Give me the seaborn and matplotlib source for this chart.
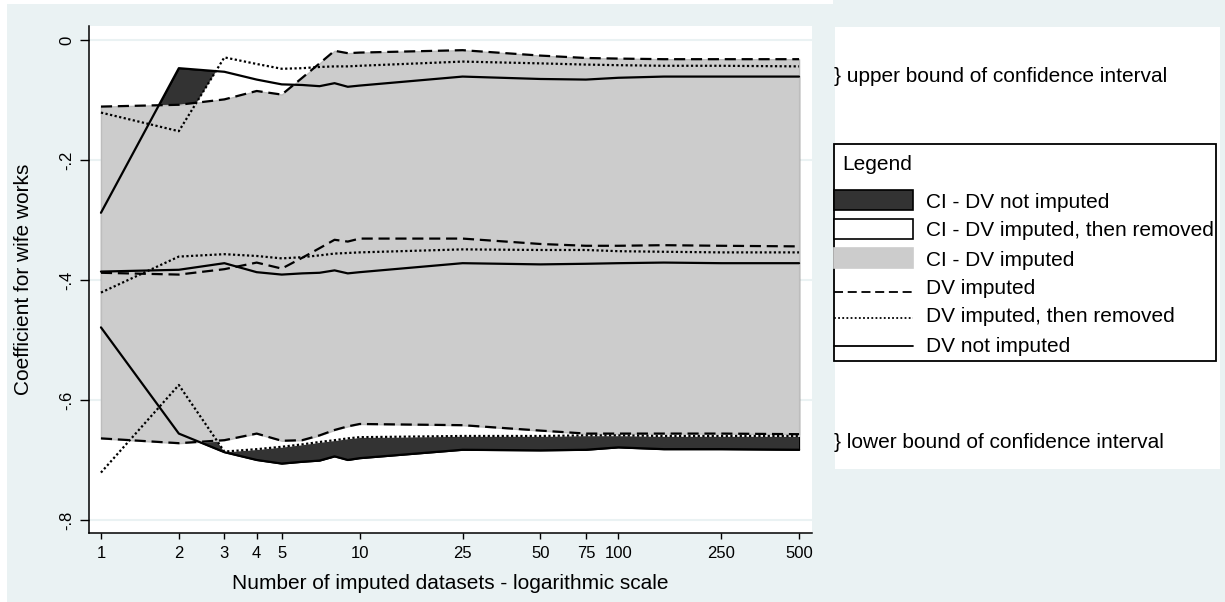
import numpy as np
import pandas as pd
import matplotlib.pyplot as plt
import seaborn as sns
from matplotlib.patches import Rectangle
from matplotlib.ticker import NullLocator

# number of imputed datasets
m_sets = [1, 2, 3, 4, 5, 6, 7, 8, 9, 10, 25, 50, 75, 100, 150, 250, 500]

# DV imputed (dashed)
imp_upper = [-0.111, -0.108, -0.099, -0.085, -0.091, -0.063, -0.039, -0.018, -0.022, -0.021,
             -0.017, -0.026, -0.030, -0.031, -0.032, -0.032, -0.032]
imp_coef = [-0.388, -0.391, -0.382, -0.371, -0.381, -0.363, -0.347, -0.333, -0.336, -0.331,
            -0.331, -0.340, -0.343, -0.343, -0.342, -0.343, -0.344]
imp_lower = [-0.664, -0.672, -0.667, -0.656, -0.668, -0.667, -0.659, -0.650, -0.644, -0.640,
             -0.642, -0.651, -0.656, -0.656, -0.656, -0.656, -0.657]

# DV imputed, then removed (dotted)
rem_upper = [-0.121, -0.152, -0.029, -0.040, -0.048, -0.047, -0.045, -0.044, -0.044, -0.043,
             -0.036, -0.039, -0.041, -0.042, -0.043, -0.043, -0.044]
rem_coef = [-0.421, -0.361, -0.357, -0.360, -0.364, -0.362, -0.359, -0.356, -0.355, -0.354,
            -0.349, -0.350, -0.350, -0.352, -0.353, -0.354, -0.354]
rem_lower = [-0.721, -0.575, -0.686, -0.682, -0.678, -0.674, -0.670, -0.667, -0.664, -0.662,
             -0.660, -0.660, -0.659, -0.659, -0.660, -0.660, -0.660]

# DV not imputed (solid)
not_upper = [-0.288, -0.047, -0.053, -0.066, -0.074, -0.075, -0.077, -0.072, -0.078, -0.076,
             -0.061, -0.065, -0.066, -0.063, -0.061, -0.061, -0.061]
not_coef = [-0.386, -0.383, -0.372, -0.387, -0.391, -0.389, -0.388, -0.384, -0.389, -0.387,
            -0.372, -0.374, -0.373, -0.372, -0.371, -0.372, -0.372]
not_lower = [-0.479, -0.656, -0.687, -0.700, -0.706, -0.703, -0.701, -0.694, -0.700, -0.697,
             -0.683, -0.684, -0.683, -0.679, -0.682, -0.682, -0.683]

x_ticks = [1, 2, 3, 4, 5, 10, 25, 50, 75, 100, 250, 500]
y_ticks = [0, -0.2, -0.4, -0.6, -0.8]
y_tick_labels = ["0", "-.2", "-.4", "-.6", "-.8"]

BG = "#EAF2F3"
DARK = "#333333"
GREY = "#CCCCCC"

sns.set_style("white")
plt.rcParams["font.family"] = ["Liberation Sans", "DejaVu Sans"]
plt.rcParams["text.color"] = "black"
plt.rcParams["axes.labelcolor"] = "black"
plt.rcParams["xtick.color"] = "black"
plt.rcParams["ytick.color"] = "black"

W, H = 1225, 602
fig = plt.figure(figsize=(W / 100, H / 100), dpi=100, facecolor=BG)


def px_axes(x0, y0, x1, y1):
    return fig.add_axes([x0 / W, 1 - y1 / H, (x1 - x0) / W, (y1 - y0) / H])


# thin white margin of the original export
fig.patches.append(Rectangle((0, 0), 7 / W, 1, transform=fig.transFigure,
                             facecolor="white", edgecolor="none", zorder=-5))
fig.patches.append(Rectangle((0, 1 - 4 / H), 833 / W, 4 / H, transform=fig.transFigure,
                             facecolor="white", edgecolor="none", zorder=-5))

ax = px_axes(89, 26, 812, 533)
ax.set_facecolor("white")

# confidence bands: not imputed at bottom, then removed, then imputed on top
ax.fill_between(m_sets, not_lower, not_upper, facecolor=DARK, edgecolor="black",
                linewidth=0.8, zorder=1)
ax.fill_between(m_sets, rem_lower, rem_upper, facecolor="white", edgecolor="white",
                linewidth=0.5, zorder=2)
ax.fill_between(m_sets, imp_lower, imp_upper, facecolor=GREY, edgecolor="#BDBDBD",
                linewidth=1.0, zorder=3)

series_names = ["DV imputed", "DV imputed, then removed", "DV not imputed"]
series_data = [
    (imp_upper, imp_coef, imp_lower),
    (rem_upper, rem_coef, rem_lower),
    (not_upper, not_coef, not_lower),
]
rows = []
for name, (up, mid, lo) in zip(series_names, series_data):
    for bound, vals in zip(["upper", "coef", "lower"], [up, mid, lo]):
        for m, v in zip(m_sets, vals):
            rows.append({"m": m, "coef": v, "series": name, "bound": bound})
df = pd.DataFrame(rows)

line_dashes = {"DV imputed": (5, 2.6), "DV imputed, then removed": (1, 1.1),
               "DV not imputed": ""}
sns.lineplot(data=df, x="m", y="coef", style="series", units="bound", estimator=None,
             dashes=line_dashes, color="black", linewidth=1.6, legend=False,
             sort=False, ax=ax, zorder=4)

ax.set_xscale("log")
ax.set_xlim(0.899, 561)
ax.set_ylim(-0.8217, 0.0233)
ax.set_xticks(x_ticks)
ax.set_xticklabels([str(t) for t in x_ticks])
ax.xaxis.set_minor_locator(NullLocator())
ax.set_yticks(y_ticks)
ax.set_yticklabels(y_tick_labels, rotation=90, va="center")
ax.tick_params(axis="x", length=4, width=1, color="black", labelsize=12, pad=5,
               bottom=True, labelcolor="black")
ax.tick_params(axis="y", length=6.5, width=1, color="black", labelsize=12, pad=4,
               left=True, labelcolor="black")
ax.yaxis.grid(True, color=BG, linewidth=1.5)
ax.xaxis.grid(False)
ax.set_axisbelow(True)
for side in ["top", "right"]:
    ax.spines[side].set_visible(False)
for side in ["left", "bottom"]:
    ax.spines[side].set_color("black")
    ax.spines[side].set_linewidth(1.1)

ax.set_xlabel("Number of imputed datasets - logarithmic scale", fontsize=15, va="center",
              color="black")
ax.xaxis.set_label_coords(0.5, -0.099)
ax.set_ylabel("Coefficient for wife works", fontsize=15, va="center", color="black")
ax.yaxis.set_label_coords(-0.09, 0.5)

# right-hand panel with notes and legend (pixel coordinates)
pan = px_axes(835, 27, 1220, 469)
pan.set_facecolor("white")
pan.set_xlim(835, 1220)
pan.set_ylim(469, 27)
pan.set_xticks([])
pan.set_yticks([])
for s in pan.spines.values():
    s.set_visible(False)

pan.text(834, 76, "} upper bound of confidence interval", fontsize=15, va="center",
         ha="left", clip_on=False)
pan.text(834, 443, "} lower bound of confidence interval", fontsize=15, va="center",
         ha="left", clip_on=False)

pan.add_patch(Rectangle((834, 144), 382, 217, fill=False, edgecolor="black",
                        linewidth=1.3, clip_on=False))
pan.text(842, 165, "Legend", fontsize=15, va="center", ha="left")

patch_labels = ["CI - DV not imputed", "CI - DV imputed, then removed", "CI - DV imputed"]
patch_faces = [DARK, "white", GREY]
patch_edges = ["black", "black", GREY]
patch_y = [200, 229, 258]
for lab, fc, ec, yc in zip(patch_labels, patch_faces, patch_edges, patch_y):
    pan.add_patch(Rectangle((834, yc - 10), 79, 20, facecolor=fc, edgecolor=ec,
                            linewidth=1.2, clip_on=False))
    pan.text(926, yc + 2, lab, fontsize=15, va="center", ha="left")

line_y = [292, 318, 346]
text_y = [288, 316, 346]
for name, ly, ty in zip(series_names, line_y, text_y):
    ln, = pan.plot([834, 913], [ly, ly], color="black", linewidth=1.3, clip_on=False)
    if line_dashes[name]:
        ln.set_dashes((5, 2.6) if name == "DV imputed" else (1, 1.3))
    pan.text(926, ty, name, fontsize=15, va="center", ha="left")

fig.savefig("out.png", dpi=100, facecolor=BG)
